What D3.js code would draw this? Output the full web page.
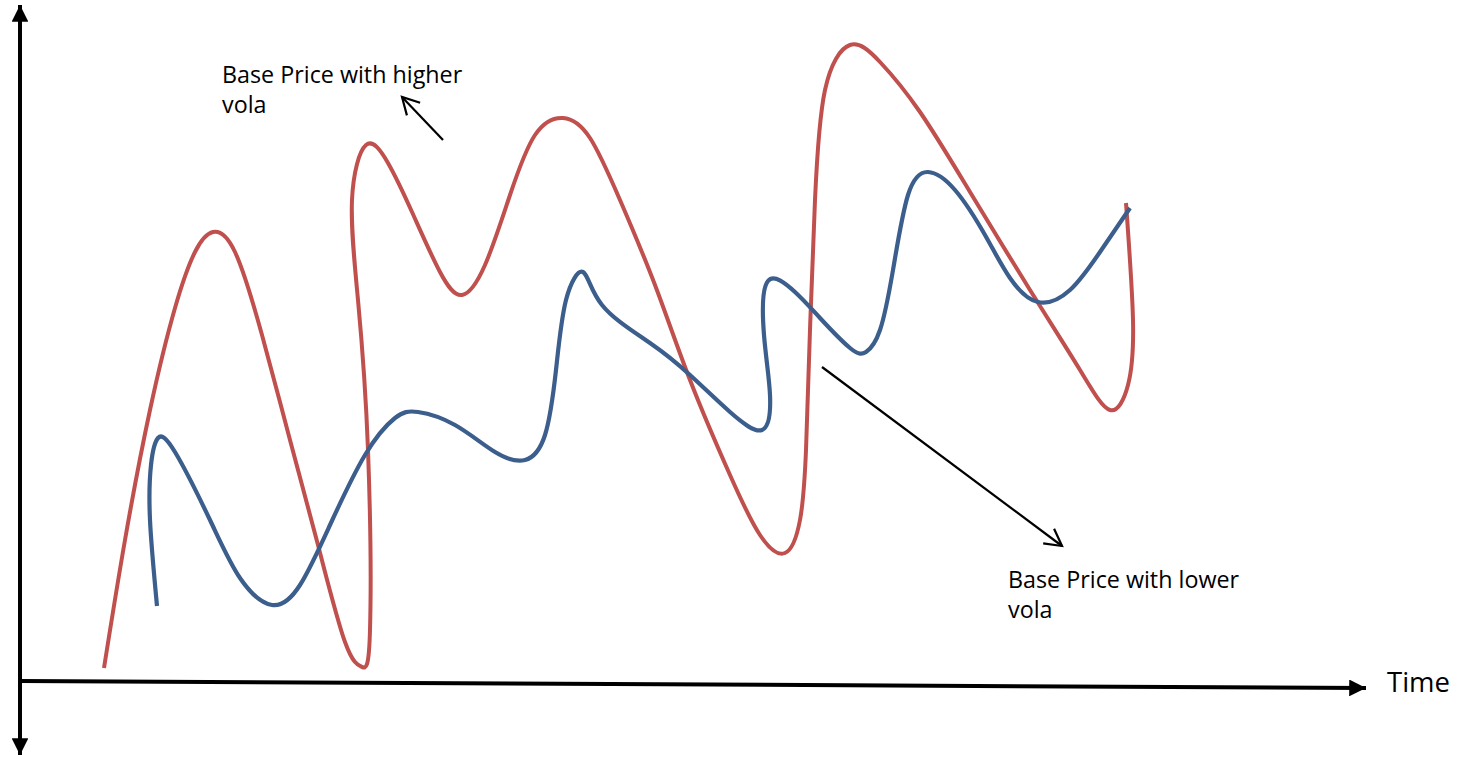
<!DOCTYPE html>
<html>
<head>
<meta charset="utf-8">
<script src="https://cdn.jsdelivr.net/npm/d3@7"></script>
<style>
  html, body { margin: 0; padding: 0; background: #fff; }
  svg { display: block; }
</style>
</head>
<body>
<svg id="chart" width="1457" height="759"></svg>
<script>
// ---- data (time / price units) ----
const highVolTime  = [84,105,130,155,175,193,215,242,270,298,325,342,350,348,338,332,346,368,392,420,442,465,490,515,543,570,600,635,670,710,740,765,780,786,790,795,805,830,860,900,950,1010,1060,1090,1108,1113,1106];
const highVolPrice = [13,141,271,373,429,449,429,346,241,136,39,14,51,231,381,481,536,518,469,409,386,416,486,546,563,543,481,396,301,206,146,128,161,231,351,481,591,636,619,569,489,391,311,271,296,361,478];

const lowVolTime  = [137,130,131,138,155,190,220,252,280,310,345,375,398,435,475,505,525,536,546,563,582,630,670,710,742,750,744,748,775,800,830,846,860,873,888,908,935,965,990,1018,1050,1080,1110];
const lowVolPrice = [75,161,216,243,229,161,103,76,96,156,226,263,269,256,229,221,246,311,381,409,376,338,306,269,251,286,346,400,389,363,333,329,351,411,486,509,491,446,403,379,391,429,473];

const axisLabel = "Time";
const labelHigh = ["Base Price with higher", "vola"];
const labelLow  = ["Base Price with lower", "vola"];
// annotation anchors (time, price): text position, arrow tail, arrow tip
const annHigh = { text: [202, 598], tail: [423, 541], tip: [382, 584] };
const annLow  = { text: [988, 93],  tail: [802, 314], tip: [1042, 135] };

// ---- scales ----
const svg = d3.select("#chart");
const x = d3.scaleLinear().domain([0, 1345]).range([20, 1365]);
const y = d3.scaleLinear().domain([0, 680]).range([681, 1]);

const RED = "#C0504D", BLUE = "#3B5E8C";

const line = d3.line()
  .x(d => x(d[0])).y(d => y(d[1]))
  .curve(d3.curveNatural);

// ---- axes (arrows) ----
const defs = svg.append("defs");
defs.append("marker").attr("id", "solidHead")
  .attr("viewBox", "0 0 10 10").attr("refX", 10).attr("refY", 5)
  .attr("markerWidth", 4.2).attr("markerHeight", 4.2).attr("markerUnits", "strokeWidth")
  .attr("orient", "auto-start-reverse")
  .append("path").attr("d", "M0,0 L10,5 L0,10 Z").attr("fill", "#000");

// y axis
svg.append("line")
  .attr("x1", x(0)).attr("y1", 755).attr("x2", x(0)).attr("y2", 5)
  .attr("stroke", "#000").attr("stroke-width", 4)
  .attr("marker-start", "url(#solidHead)").attr("marker-end", "url(#solidHead)");
// x axis
svg.append("line")
  .attr("x1", x(0)).attr("y1", y(0)).attr("x2", x(1346)).attr("y2", y(-7))
  .attr("stroke", "#000").attr("stroke-width", 4)
  .attr("marker-end", "url(#solidHead)");

svg.append("text").text(axisLabel)
  .attr("x", x(1367)).attr("y", y(-11))
  .attr("font-family", "'Open Sans', sans-serif").attr("font-size", 27.5)
  .attr("fill", "#000");

// ---- series ----
const hi = d3.zip(highVolTime, highVolPrice);
const lo = d3.zip(lowVolTime, lowVolPrice);

svg.append("path").datum(hi).attr("d", line)
  .attr("fill", "none").attr("stroke", RED).attr("stroke-width", 4).attr("stroke-linecap", "butt");
svg.append("path").datum(lo).attr("d", line)
  .attr("fill", "none").attr("stroke", BLUE).attr("stroke-width", 4.2).attr("stroke-linecap", "butt");

// ---- annotations ----
function openArrow(a) {
  const x1 = x(a.tail[0]), y1 = y(a.tail[1]), x2 = x(a.tip[0]), y2 = y(a.tip[1]);
  svg.append("line").attr("x1", x1).attr("y1", y1).attr("x2", x2).attr("y2", y2)
    .attr("stroke", "#000").attr("stroke-width", 2.2);
  const ang = Math.atan2(y2 - y1, x2 - x1), L = 19, w = 0.5;
  const p1 = [x2 - L * Math.cos(ang - w), y2 - L * Math.sin(ang - w)];
  const p2 = [x2 - L * Math.cos(ang + w), y2 - L * Math.sin(ang + w)];
  svg.append("path").attr("d", `M${p1[0]},${p1[1]} L${x2},${y2} L${p2[0]},${p2[1]}`)
    .attr("fill", "none").attr("stroke", "#000").attr("stroke-width", 2.2);
}
function label(lines, pos) {
  const t = svg.append("text")
    .attr("font-family", "'Open Sans', sans-serif").attr("font-size", 23.3).attr("fill", "#000");
  lines.forEach((s, i) => {
    t.append("tspan").attr("x", x(pos[0])).attr("y", y(pos[1]) + i * 30).text(s);
  });
}
label(labelHigh, annHigh.text);
openArrow(annHigh);
label(labelLow, annLow.text);
openArrow(annLow);
</script>
</body>
</html>
